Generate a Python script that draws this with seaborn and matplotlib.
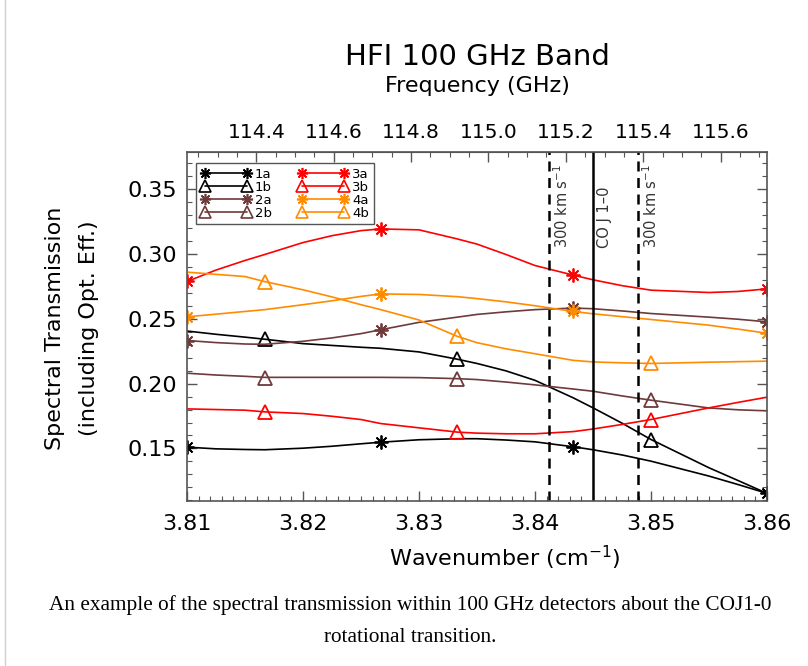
import numpy as np
import pandas as pd
import matplotlib
matplotlib.use("Agg")
import matplotlib.pyplot as plt
from matplotlib.lines import Line2D
from matplotlib.ticker import MultipleLocator
import seaborn as sns

# ---------------- data ----------------
# wavenumber grid (cm^-1) at which the smooth curves were read
wn_curve = [3.81, 3.8125, 3.815, 3.8167, 3.82, 3.8225, 3.825, 3.8267, 3.83, 3.8333,
            3.835, 3.8375, 3.84, 3.8433, 3.845, 3.8475, 3.85, 3.855, 3.8575, 3.86]
curve_1a = [.1510, .1497, .1492, .1490, .1502, .1517, .1536, .1548, .1567, .1575,
            .1575, .1565, .1551, .1513, .1490, .1450, .1402, .1287, .1222, .1154]
curve_1b = [.2405, .2380, .2358, .2342, .2308, .2294, .2280, .2272, .2244, .2188,
            .2155, .2098, .2025, .1890, .1813, .1695, .1569, .1351, .1253, .1154]
curve_2a = [.2332, .2316, .2305, .2303, .2326, .2352, .2385, .2415, .2472, .2512,
            .2533, .2553, .2570, .2582, .2577, .2560, .2540, .2512, .2496, .2476]
curve_2b = [.2080, .2066, .2056, .2048, .2048, .2048, .2048, .2048, .2046, .2038,
            .2031, .2012, .1990, .1958, .1941, .1905, .1872, .1812, .1798, .1790]
curve_3a = [.2787, .2875, .2949, .2995, .3087, .3140, .3179, .3192, .3185, .3115,
            .3075, .2995, .2910, .2836, .2800, .2755, .2720, .2702, .2710, .2730]
curve_3b = [.1805, .1800, .1795, .1782, .1769, .1748, .1723, .1692, .1659, .1626,
            .1618, .1613, .1613, .1630, .1650, .1685, .1723, .1813, .1855, .1895]
curve_4a = [.2515, .2535, .2556, .2570, .2608, .2638, .2672, .2691, .2687, .2670,
            .2655, .2630, .2600, .2556, .2538, .2516, .2494, .2450, .2420, .2388]
curve_4b = [.2859, .2842, .2825, .2786, .2723, .2668, .2608, .2570, .2490, .2364,
            .2315, .2268, .2230, .2179, .2167, .2160, .2155, .2165, .2169, .2173]

# marker positions
wn_a = [3.81, 3.8267, 3.8433, 3.86]
wn_b = [3.8167, 3.8333, 3.85]
pts_1a = [.1510, .1548, .1513, .1154]
pts_1b = [.2342, .2188, .1569]
pts_2a = [.2332, .2415, .2582, .2476]
pts_2b = [.2046, .2038, .1872]
pts_3a = [.2787, .3192, .2836, .2730]
pts_3b = [.1780, .1626, .1723]
pts_4a = [.2515, .2691, .2556, .2388]
pts_4b = [.2784, .2364, .2155]

series_names = ["1a", "1b", "2a", "2b", "3a", "3b", "4a", "4b"]
co_freq = 115.271      # GHz, CO J 1-0
vel_kms = 300.0
c_kms = 299792.458
c_ghz_cm = 29.9792458  # GHz per cm^-1

xticks_wn = [3.81, 3.82, 3.83, 3.84, 3.85, 3.86]
yticks = [0.15, 0.20, 0.25, 0.30, 0.35]
freq_ticks = [114.4, 114.6, 114.8, 115.0, 115.2, 115.4, 115.6]

curves = {"1a": curve_1a, "1b": curve_1b, "2a": curve_2a, "2b": curve_2b,
          "3a": curve_3a, "3b": curve_3b, "4a": curve_4a, "4b": curve_4b}
points = {"1a": pts_1a, "1b": pts_1b, "2a": pts_2a, "2b": pts_2b,
          "3a": pts_3a, "3b": pts_3b, "4a": pts_4a, "4b": pts_4b}

# ---------------- style ----------------
sns.set_style("ticks")
plt.rcParams["font.family"] = ["DejaVu Sans"]
plt.rcParams["mathtext.fontset"] = "dejavusans"
plt.rcParams["text.color"] = "black"
plt.rcParams["axes.labelcolor"] = "black"
plt.rcParams["xtick.labelcolor"] = "black"
plt.rcParams["ytick.labelcolor"] = "black"

colors = {"1": "#000000", "2": "#6e3a3a", "3": "#ff0000", "4": "#ff8c00"}
ast = (8, 2, 0)
axis_col = "#555555"

fig = plt.figure(figsize=(8.08, 6.66), dpi=100)
ax = fig.add_axes([187 / 808, 1 - 501 / 666, 580 / 808, 349 / 666])

df = pd.DataFrame({"wn": wn_curve, **curves})
for name in series_names:
    col = colors[name[0]]
    sns.lineplot(data=df, x="wn", y=name, color=col, lw=1.2, ax=ax, sort=False)
    if name.endswith("a"):
        sns.lineplot(x=wn_a, y=points[name], ax=ax, color=col, linestyle="",
                     marker=ast, markersize=10, markeredgewidth=1.3,
                     markeredgecolor=col, sort=False)
    else:
        sns.lineplot(x=wn_b, y=points[name], ax=ax, color=col, linestyle="",
                     marker="^", markersize=10, markeredgewidth=1.3,
                     markerfacecolor="none", markeredgecolor=col, sort=False)

# CO line and +/-300 km/s
co_wn = co_freq / c_ghz_cm
lo_wn = co_wn * (1 - vel_kms / c_kms)
hi_wn = co_wn * (1 + vel_kms / c_kms)
ax.axvline(co_wn, color="black", lw=1.8)
for k in (lo_wn, hi_wn):
    ax.axvline(k, color="black", lw=1.8, dashes=(4, 2.6))
trans = ax.get_xaxis_transform()
txt_kw = dict(rotation=90, ha="left", va="bottom", fontsize=10.5, color="#333333", transform=trans)
ax.text(lo_wn + 0.0003, 0.725, "300 km s$^{-1}$", **txt_kw)
ax.text(hi_wn + 0.0003, 0.725, "300 km s$^{-1}$", **txt_kw)
ax.text(co_wn + 0.0003, 0.725, "CO J 1\u20130", **txt_kw)

ax.set_xlim(3.81, 3.86)
ax.set_ylim(0.1095, 0.3785)
ax.set_xticks(xticks_wn)
ax.set_xticklabels([f"{v:.2f}" for v in xticks_wn])
ax.set_yticks(yticks)
ax.set_yticklabels([f"{v:.2f}" for v in yticks])
ax.xaxis.set_minor_locator(MultipleLocator(0.001))
ax.yaxis.set_minor_locator(MultipleLocator(0.01))
ax.set_xlabel("")
ax.set_ylabel("")
ax.tick_params(axis="both", which="both", direction="in", color=axis_col,
               labelsize=16, labelcolor="black")
ax.tick_params(axis="x", which="both", top=False, bottom=True, pad=9)
ax.tick_params(axis="y", which="both", left=True, right=True, pad=7)
ax.tick_params(which="major", length=7, width=1)
ax.tick_params(which="minor", length=3.5, width=0.8)
for s in ax.spines.values():
    s.set_visible(True)
    s.set_color(axis_col)
    s.set_linewidth(1.2)

sec = ax.secondary_xaxis("top", functions=(lambda k: k * c_ghz_cm, lambda f: f / c_ghz_cm))
sec.set_xticks(freq_ticks)
sec.set_xticklabels([f"{v:.1f}" for v in freq_ticks])
sec.xaxis.set_minor_locator(MultipleLocator(0.05))
sec.tick_params(which="both", direction="in", color=axis_col, labelsize=14.5, pad=7,
                labelcolor="black")
sec.tick_params(which="major", length=7, width=1)
sec.tick_params(which="minor", length=3.5, width=0.8)
sec.spines["top"].set_color(axis_col)

# legend
handles = []
for name in series_names:
    col = colors[name[0]]
    if name.endswith("a"):
        h = Line2D([0], [0], color=col, lw=1.2, marker=ast, markersize=8,
                   markeredgewidth=1.2, markeredgecolor=col)
    else:
        h = Line2D([0], [0], color=col, lw=1.2, marker="^", markersize=8,
                   markeredgewidth=1.2, markerfacecolor="none", markeredgecolor=col)
    handles.append(h)
leg = ax.legend(handles, series_names, ncol=2, loc="upper left",
                bbox_to_anchor=(0.0155, 0.9685), borderaxespad=0, numpoints=2,
                handlelength=3.8, handletextpad=0.3, columnspacing=2.0,
                labelspacing=0.0, fontsize=9.5, borderpad=0.35,
                fancybox=False, framealpha=1, edgecolor=axis_col)
leg.get_frame().set_linewidth(1.0)
for t in leg.get_texts():
    t.set_color("black")

# titles and labels
fig.text(477 / 808, 1 - 57 / 666, "HFI 100 GHz Band", ha="center", va="center", fontsize=21)
fig.text(477 / 808, 1 - 86 / 666, "Frequency (GHz)", ha="center", va="center", fontsize=16)
fig.text(505 / 808, 1 - 558 / 666, "Wavenumber (cm$^{-1}$)", ha="center", va="center", fontsize=16)
fig.text(72 / 808, 1 - 328 / 666, "Spectral Transmission\n(including Opt. Eff.)",
         ha="center", va="center", rotation=90, fontsize=16, linespacing=1.9,
         multialignment="center")

# caption
fig.text(410 / 808, 1 - 605 / 666,
         "An example of the spectral transmission within 100 GHz detectors about the COJ1-0",
         ha="center", va="center", fontsize=15.3, family="Liberation Serif")
fig.text(410 / 808, 1 - 637 / 666, "rotational transition.",
         ha="center", va="center", fontsize=15.3, family="Liberation Serif")

# thin page border on the left, as in the reference
fig.add_artist(Line2D([5 / 808, 5 / 808], [0, 1], transform=fig.transFigure,
                      color="#d0d0d0", lw=1))

fig.savefig("out.png", dpi=100)
